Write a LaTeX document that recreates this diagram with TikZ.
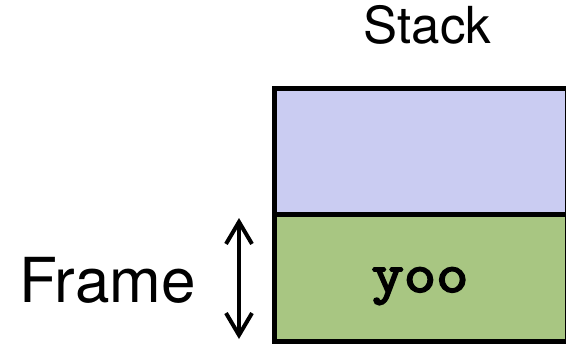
\documentclass[tikz,border=0pt]{standalone}
\usepackage{fontspec}
\setmainfont{TeX Gyre Heros}
\newfontfamily\yoofont{Latin Modern Mono}[FakeBold=3]
\usepackage{graphicx}
\usetikzlibrary{arrows.meta}
\definecolor{stacklav}{RGB}{202,204,242}
\definecolor{framegreen}{RGB}{168,198,130}
\tikzset{
  cell/.style={draw=black, line width=5bp, minimum width=292.5bp, inner sep=0pt, outer sep=0pt},
  label/.style={inner sep=0pt, anchor=base},
  framearrow/.style={line width=4bp, {Straight Barb[length=22bp,width=26bp]}-{Straight Barb[length=22bp,width=26bp]}}
}
\begin{document}
\begin{tikzpicture}[x=1bp,y=-1bp]
\useasboundingbox (0,0) rectangle (566,343);
\node[cell, fill=stacklav, minimum height=126bp] (top) at (420.75,151) {};
\node[cell, fill=framegreen, minimum height=127bp] (bot) at (420.75,277.5) {};
\node[label, font=\fontsize{51bp}{56bp}\selectfont] (stacklbl) at (427.5,43) {Stack};
\node[label, font=\fontsize{62bp}{70bp}\selectfont] (framelbl) at (107.5,302) {Frame};
\node[label, font=\fontsize{56bp}{60bp}\selectfont\yoofont] (yoo) at (420,292) {\scalebox{1.12}[1]{yoo}};
\coordinate (ftop) at (239,218);
\coordinate (fbot) at (239,339);
\draw[framearrow] (ftop) -- (fbot);
\end{tikzpicture}
\end{document}
